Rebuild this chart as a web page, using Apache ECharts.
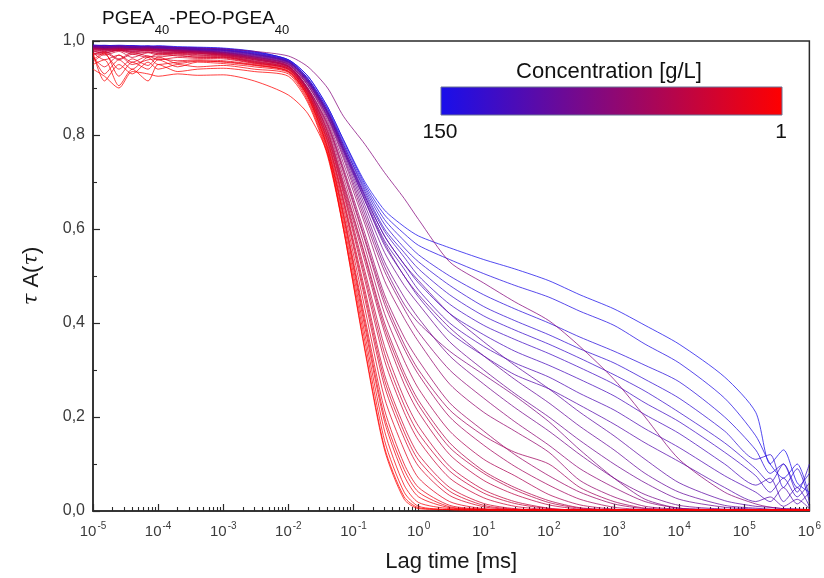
<!DOCTYPE html>
<html><head><meta charset="utf-8">
<script src="https://cdn.jsdelivr.net/npm/echarts@6/dist/echarts.min.js"></script>
<style>html,body{margin:0;padding:0;background:#fff}#c{width:824px;height:578px}</style>
</head><body><div id="c"></div>
<script>
// Lag time grid [ms]
const lagTime = [1e-5,1.5e-5,2.5e-5,4e-5,7e-5,1e-4,2e-4,4e-4,1e-3,3e-3,
  1e-2,2e-2,4e-2,7e-2,0.15,0.3,0.6,1,3,10,
  30,100,300,1e3,3e3,1e4,5e4,1.5e5,2.5e5,4e5,6.5e5,1e6];

// Concentrations [g/L] for each curve (drawing order: high -> low)
const concentration = [150,145,140,135,130,125,120,115,110,105,100,95,90,85,80,75,70,65,62,60,55,50,47,45,40,37,35,30,27,25,20,15,12,10,7,4,2,1];

const tauA_c150 = [0.992,0.990,0.991,0.990,0.989,0.990,0.988,0.987,0.985,0.978, 0.960,0.925,0.860,0.790,0.700,0.640,0.605,0.585,0.560,0.535, 0.515,0.490,0.460,0.430,0.395,0.355,0.285,0.210,0.100,0.130,0.060,0.040];
const tauA_c145 = [0.990,0.991,0.989,0.990,0.988,0.989,0.987,0.986,0.984,0.977, 0.960,0.925,0.860,0.790,0.695,0.630,0.590,0.565,0.535,0.505, 0.480,0.455,0.425,0.395,0.355,0.315,0.240,0.160,0.100,0.070,0.100,0.030];
const tauA_c140 = [0.990,0.989,0.990,0.988,0.990,0.987,0.986,0.985,0.983,0.976, 0.960,0.920,0.855,0.785,0.690,0.620,0.575,0.545,0.500,0.460, 0.430,0.400,0.370,0.340,0.310,0.275,0.200,0.130,0.080,0.100,0.050,0.080];
const tauA_c135 = [0.989,0.990,0.988,0.990,0.987,0.988,0.986,0.984,0.982,0.975, 0.958,0.920,0.855,0.780,0.685,0.610,0.560,0.530,0.480,0.435, 0.405,0.375,0.345,0.315,0.280,0.240,0.170,0.110,0.120,0.050,0.090,0.020];
const tauA_c130 = [0.990,0.988,0.990,0.987,0.989,0.986,0.986,0.984,0.981,0.974, 0.958,0.918,0.850,0.780,0.680,0.600,0.550,0.515,0.460,0.415, 0.385,0.355,0.325,0.290,0.255,0.210,0.145,0.090,0.060,0.100,0.040,0.100];
const tauA_c125 = [0.988,0.990,0.987,0.989,0.986,0.988,0.985,0.983,0.981,0.973, 0.957,0.918,0.850,0.775,0.675,0.595,0.540,0.500,0.440,0.395, 0.365,0.335,0.305,0.270,0.230,0.190,0.125,0.075,0.040,0.070,0.030,0.060];
const tauA_c120 = [0.990,0.987,0.989,0.986,0.988,0.985,0.985,0.982,0.980,0.972, 0.956,0.915,0.845,0.770,0.670,0.585,0.525,0.485,0.420,0.375, 0.340,0.310,0.280,0.245,0.205,0.165,0.100,0.055,0.070,0.020,0.050,0.010];
const tauA_c115 = [0.988,0.989,0.987,0.988,0.986,0.987,0.984,0.982,0.980,0.972, 0.956,0.915,0.845,0.770,0.665,0.575,0.515,0.470,0.400,0.350, 0.315,0.285,0.250,0.215,0.175,0.135,0.075,0.040,0.020,0.050,0.015,0.040];
const tauA_c110 = [0.989,0.987,0.988,0.986,0.988,0.985,0.984,0.981,0.979,0.971, 0.955,0.912,0.840,0.765,0.660,0.565,0.500,0.455,0.380,0.330, 0.290,0.260,0.225,0.185,0.145,0.105,0.050,0.020,0.030,0.010,0.025,0.005];
const tauA_c105 = [0.988,0.986,0.987,0.985,0.986,0.984,0.983,0.981,0.978,0.970, 0.955,0.915,0.850,0.775,0.670,0.585,0.525,0.490,0.420,0.360, 0.310,0.260,0.210,0.160,0.110,0.060,0.022,0.010,0.008,0.005,0.004,0.003];
const tauA_c100 = [0.987,0.986,0.985,0.986,0.984,0.985,0.982,0.980,0.977,0.969, 0.954,0.913,0.848,0.770,0.660,0.570,0.500,0.460,0.390,0.330, 0.280,0.230,0.180,0.130,0.080,0.040,0.012,0.006,0.004,0.003,0.003,0.002];
const tauA_c95  = [0.986,0.987,0.984,0.985,0.985,0.983,0.982,0.980,0.976,0.968, 0.953,0.910,0.845,0.765,0.650,0.550,0.480,0.440,0.360,0.300, 0.250,0.200,0.150,0.100,0.060,0.025,0.008,0.004,0.003,0.003,0.002,0.002];
const tauA_c90  = [0.987,0.985,0.986,0.984,0.985,0.983,0.981,0.979,0.976,0.967, 0.952,0.910,0.840,0.760,0.640,0.530,0.455,0.410,0.330,0.270, 0.220,0.170,0.120,0.070,0.035,0.012,0.004,0.003,0.002,0.002,0.002,0.002];
const tauA_c85  = [0.986,0.984,0.986,0.983,0.985,0.982,0.981,0.979,0.975,0.966, 0.951,0.907,0.838,0.755,0.630,0.520,0.440,0.400,0.340,0.290, 0.245,0.190,0.130,0.070,0.025,0.006,0.003,0.002,0.002,0.002,0.002,0.002];
const tauA_c80  = [0.990,0.988,0.989,0.988,0.987,0.988,0.986,0.985,0.983,0.978, 0.968,0.945,0.900,0.840,0.780,0.720,0.665,0.620,0.530,0.485, 0.445,0.405,0.350,0.280,0.200,0.110,0.040,0.015,0.008,0.005,0.004,0.003];
const tauA_c75  = [0.986,0.984,0.985,0.983,0.984,0.982,0.980,0.978,0.975,0.966, 0.950,0.905,0.835,0.750,0.620,0.510,0.430,0.380,0.300,0.240, 0.190,0.140,0.090,0.050,0.020,0.006,0.003,0.002,0.002,0.002,0.002,0.002];
const tauA_c70  = [0.985,0.984,0.983,0.984,0.982,0.983,0.980,0.978,0.974,0.965, 0.950,0.905,0.830,0.740,0.610,0.490,0.410,0.360,0.270,0.210, 0.170,0.125,0.065,0.030,0.010,0.004,0.002,0.002,0.002,0.002,0.002,0.002];
const tauA_c65  = [0.985,0.983,0.984,0.982,0.983,0.981,0.979,0.977,0.973,0.964, 0.948,0.900,0.825,0.730,0.590,0.460,0.370,0.320,0.230,0.170, 0.120,0.075,0.040,0.015,0.005,0.003,0.002,0.002,0.002,0.002,0.002,0.002];
const tauA_c62  = [0.984,0.982,0.984,0.981,0.983,0.980,0.979,0.977,0.973,0.963, 0.947,0.899,0.822,0.725,0.580,0.450,0.355,0.300,0.215,0.160, 0.125,0.100,0.050,0.020,0.006,0.003,0.002,0.002,0.002,0.002,0.002,0.002];
const tauA_c60  = [0.984,0.983,0.982,0.983,0.981,0.982,0.979,0.976,0.972,0.963, 0.947,0.898,0.820,0.720,0.575,0.440,0.345,0.290,0.200,0.140, 0.095,0.055,0.025,0.008,0.003,0.002,0.002,0.002,0.002,0.002,0.002,0.002];
const tauA_c55  = [0.984,0.982,0.983,0.981,0.982,0.980,0.978,0.976,0.972,0.962, 0.946,0.896,0.815,0.710,0.560,0.420,0.320,0.260,0.170,0.110, 0.075,0.035,0.013,0.004,0.002,0.002,0.002,0.002,0.002,0.002,0.002,0.002];
const tauA_c50  = [0.983,0.982,0.980,0.982,0.980,0.981,0.977,0.975,0.971,0.961, 0.945,0.895,0.810,0.700,0.545,0.400,0.295,0.235,0.145,0.085, 0.050,0.022,0.007,0.003,0.002,0.002,0.002,0.002,0.002,0.002,0.002,0.002];
const tauA_c47  = [0.982,0.979,0.982,0.978,0.981,0.977,0.976,0.974,0.970,0.960, 0.945,0.895,0.807,0.695,0.540,0.390,0.285,0.225,0.135,0.080, 0.045,0.018,0.006,0.002,0.002,0.003,0.002,0.002,0.002,0.002,0.002,0.002];
const tauA_c45  = [0.982,0.980,0.981,0.979,0.980,0.978,0.976,0.974,0.970,0.960, 0.945,0.895,0.805,0.690,0.530,0.380,0.270,0.210,0.120,0.065, 0.035,0.013,0.004,0.002,0.003,0.002,0.002,0.003,0.002,0.002,0.002,0.002];
const tauA_c40  = [0.980,0.978,0.980,0.977,0.979,0.976,0.975,0.973,0.969,0.958, 0.943,0.893,0.800,0.685,0.510,0.350,0.240,0.180,0.095,0.045, 0.020,0.006,0.002,0.003,0.002,0.002,0.003,0.002,0.002,0.002,0.002,0.002];
const tauA_c37  = [0.979,0.974,0.981,0.975,0.977,0.973,0.974,0.971,0.968,0.957, 0.942,0.891,0.797,0.680,0.500,0.335,0.225,0.165,0.085,0.038, 0.016,0.005,0.002,0.002,0.002,0.003,0.002,0.002,0.002,0.002,0.003,0.002];
const tauA_c35  = [0.978,0.975,0.980,0.972,0.976,0.974,0.973,0.970,0.967,0.956, 0.942,0.890,0.795,0.675,0.490,0.320,0.210,0.150,0.070,0.028, 0.010,0.003,0.002,0.002,0.003,0.002,0.002,0.002,0.003,0.002,0.002,0.002];
const tauA_c30  = [0.975,0.970,0.978,0.965,0.975,0.970,0.972,0.968,0.966,0.955, 0.940,0.888,0.790,0.665,0.470,0.290,0.180,0.120,0.050,0.016, 0.005,0.002,0.003,0.002,0.002,0.003,0.002,0.002,0.002,0.003,0.002,0.002];
const tauA_c27  = [0.972,0.978,0.962,0.975,0.968,0.966,0.970,0.965,0.965,0.954, 0.940,0.887,0.787,0.660,0.460,0.278,0.168,0.108,0.042,0.012, 0.004,0.002,0.002,0.002,0.003,0.002,0.002,0.002,0.002,0.002,0.002,0.002];
const tauA_c25  = [0.970,0.975,0.960,0.972,0.965,0.972,0.968,0.966,0.964,0.953, 0.940,0.886,0.785,0.655,0.450,0.265,0.155,0.095,0.033,0.009, 0.003,0.002,0.002,0.003,0.002,0.002,0.002,0.003,0.002,0.002,0.003,0.002];
const tauA_c20  = [0.975,0.960,0.970,0.955,0.968,0.960,0.965,0.963,0.962,0.952, 0.938,0.884,0.780,0.645,0.430,0.240,0.130,0.070,0.020,0.005, 0.003,0.002,0.002,0.002,0.003,0.002,0.002,0.002,0.002,0.002,0.002,0.003];
const tauA_c15  = [0.965,0.945,0.970,0.950,0.960,0.962,0.958,0.960,0.958,0.950, 0.936,0.882,0.775,0.635,0.410,0.215,0.100,0.050,0.012,0.004, 0.003,0.002,0.003,0.002,0.002,0.002,0.003,0.002,0.002,0.002,0.002,0.002];
const tauA_c12  = [0.955,0.972,0.940,0.962,0.948,0.966,0.952,0.957,0.956,0.949, 0.935,0.881,0.772,0.630,0.400,0.200,0.088,0.040,0.009,0.003, 0.002,0.002,0.002,0.003,0.002,0.002,0.002,0.002,0.003,0.002,0.002,0.002];
const tauA_c10  = [0.970,0.930,0.960,0.940,0.965,0.950,0.955,0.958,0.955,0.948, 0.935,0.880,0.770,0.625,0.390,0.190,0.075,0.030,0.007,0.003, 0.002,0.003,0.002,0.002,0.002,0.003,0.002,0.002,0.003,0.002,0.002,0.002];
const tauA_c7   = [0.960,0.975,0.925,0.955,0.940,0.960,0.945,0.955,0.952,0.945, 0.933,0.876,0.765,0.615,0.375,0.170,0.055,0.018,0.005,0.003, 0.002,0.002,0.002,0.003,0.002,0.002,0.002,0.002,0.002,0.003,0.002,0.002];
const tauA_c4   = [0.975,0.915,0.950,0.930,0.955,0.940,0.950,0.945,0.948,0.940, 0.930,0.872,0.760,0.605,0.360,0.150,0.040,0.010,0.003,0.002, 0.003,0.002,0.002,0.002,0.003,0.002,0.002,0.002,0.002,0.002,0.003,0.002];
const tauA_c2   = [0.950,0.960,0.905,0.940,0.915,0.950,0.935,0.940,0.942,0.935, 0.925,0.868,0.755,0.600,0.345,0.135,0.030,0.007,0.003,0.002, 0.002,0.003,0.002,0.002,0.002,0.002,0.003,0.002,0.002,0.002,0.002,0.003];
const tauA_c1   = [0.940,0.925,0.900,0.935,0.930,0.925,0.930,0.927,0.928,0.915, 0.885,0.845,0.760,0.600,0.340,0.130,0.025,0.005,0.003,0.002, 0.002,0.002,0.003,0.002,0.002,0.002,0.002,0.003,0.002,0.002,0.002,0.002];

const curveValues = [tauA_c150,tauA_c145,tauA_c140,tauA_c135,tauA_c130,tauA_c125,tauA_c120,tauA_c115,tauA_c110,
  tauA_c105,tauA_c100,tauA_c95,tauA_c90,tauA_c85,tauA_c80,tauA_c75,tauA_c70,tauA_c65,tauA_c62,tauA_c60,tauA_c55,tauA_c50,
  tauA_c47,tauA_c45,tauA_c40,tauA_c37,tauA_c35,tauA_c30,tauA_c27,tauA_c25,tauA_c20,tauA_c15,tauA_c12,tauA_c10,tauA_c7,tauA_c4,tauA_c2,tauA_c1];

const xExponents = [-5,-4,-3,-2,-1,0,1,2,3,4,5,6];
const concMax = 150, concMin = 1;

const BLUE = [25,15,235], RED = [255,0,0];
function colorFor(c){
  const f = (c - concMin) / (concMax - concMin);
  const r = Math.round(RED[0] + (BLUE[0]-RED[0])*f);
  const g = Math.round(RED[1] + (BLUE[1]-RED[1])*f);
  const b = Math.round(RED[2] + (BLUE[2]-RED[2])*f);
  return 'rgb(' + r + ',' + g + ',' + b + ')';
}

const majorTicks = xExponents.map(e => Math.pow(10, e));
const minorTicks = [];
for (let i = 0; i < xExponents.length - 1; i++) {
  for (let m = 2; m <= 9; m++) minorTicks.push(m * Math.pow(10, xExponents[i]));
}

const series = curveValues.map((vals, i) => ({
  type: 'line',
  name: concentration[i] + ' g/L',
  xAxisIndex: 0, yAxisIndex: 0,
  data: lagTime.map((t, k) => [t, vals[k]]),
  showSymbol: false,
  smooth: 0.25,
  lineStyle: { width: 1, color: colorFor(concentration[i]), opacity: 0.75 },
  emphasis: { disabled: true },
  silent: true
}));

const FONT = 'Liberation Sans, Arial, sans-serif';
const TXT = '#1a1a1a';
const TICKTXT = '#3a3a3a';

const chart = echarts.init(document.getElementById('c'), null, { renderer: 'canvas' });
chart.setOption({
  animation: false,
  backgroundColor: '#fff',
  title: {
    text: '{n|PGEA}{s|40}{n|-PEO-PGEA}{s|40}',
    left: 97, top: 4,
    textStyle: {
      rich: {
        n: { fontSize: 19, lineHeight: 22, verticalAlign: 'top', color: '#111', fontWeight: 'normal', fontFamily: FONT },
        s: { fontSize: 13, lineHeight: 13, verticalAlign: 'top', padding: [15, 0, 0, 0], color: '#111', fontWeight: 'normal', fontFamily: FONT }
      }
    }
  },
  grid: { left: 93, right: 13, top: 41, bottom: 67, show: true, borderColor: '#2a2a2a', borderWidth: 1.5, backgroundColor: 'transparent' },
  xAxis: [{
    type: 'log', logBase: 10, min: 1e-5, max: 1e6, position: 'bottom',
    axisLine: { lineStyle: { color: '#2a2a2a', width: 1.5 } },
    axisTick: { inside: true, length: 7, customValues: majorTicks, lineStyle: { color: '#2a2a2a', width: 1.2 } },
    splitLine: { show: false },
    axisLabel: {
      margin: 10, customValues: majorTicks, hideOverlap: false,
      formatter: v => '{b|10}{s|' + Math.round(Math.log10(v)) + '}',
      rich: {
        b: { fontSize: 15, color: TICKTXT, fontFamily: FONT, verticalAlign: 'bottom', lineHeight: 18 },
        s: { fontSize: 10, color: TICKTXT, fontFamily: FONT, verticalAlign: 'bottom', lineHeight: 10, padding: [0, 0, 8, 1] }
      }
    },
    name: 'Lag time [ms]', nameLocation: 'middle', nameGap: 40,
    nameTextStyle: { fontSize: 22, color: TXT, fontFamily: FONT }
  }, {
    type: 'log', logBase: 10, min: 1e-5, max: 1e6, position: 'bottom',
    axisLine: { show: false },
    axisTick: { inside: true, length: 4, customValues: minorTicks, lineStyle: { color: '#2a2a2a', width: 1.1 } },
    axisLabel: { show: false },
    splitLine: { show: false }
  }],
  yAxis: {
    type: 'value', min: 0, max: 1, interval: 0.2,
    axisLine: { show: true, lineStyle: { color: '#2a2a2a', width: 1.5 } },
    axisTick: { show: true, inside: true, length: 7, lineStyle: { color: '#2a2a2a', width: 1.2 } },
    minorTick: { show: true, splitNumber: 2, length: 4, lineStyle: { color: '#2a2a2a', width: 1.1 } },
    splitLine: { show: false },
    axisLabel: { margin: 8, fontSize: 16, color: TICKTXT, fontFamily: FONT, formatter: v => v.toFixed(1).replace('.', ',') },
    name: '{t|τ} A({t|τ})', nameLocation: 'middle', nameGap: 50,
    nameTextStyle: { fontSize: 22, color: TXT, fontFamily: FONT, rich: { t: { fontSize: 21, fontStyle: 'italic', color: TXT, fontFamily: 'DejaVu Serif' } } }
  },
  graphic: [
    { type: 'rect', shape: { x: 441, y: 87, width: 341, height: 28 },
      style: { fill: new echarts.graphic.LinearGradient(0, 0, 1, 0, [
        { offset: 0, color: colorFor(concMax) },
        { offset: 0.5, color: colorFor((concMax + concMin) / 2) },
        { offset: 1, color: colorFor(concMin) }]), stroke: '#6b7394', lineWidth: 1 }, z: 100 },
    { type: 'text', x: 609, y: 72, style: { text: 'Concentration [g/L]', fontSize: 22, fill: '#111', fontFamily: FONT, align: 'center', verticalAlign: 'middle' }, z: 100 },
    { type: 'text', x: 440, y: 132, style: { text: String(concMax), fontSize: 21, fill: '#111', fontFamily: FONT, align: 'center', verticalAlign: 'middle' }, z: 100 },
    { type: 'text', x: 781, y: 132, style: { text: String(concMin), fontSize: 21, fill: '#111', fontFamily: FONT, align: 'center', verticalAlign: 'middle' }, z: 100 }
  ],
  series: series
});
</script></body></html>
